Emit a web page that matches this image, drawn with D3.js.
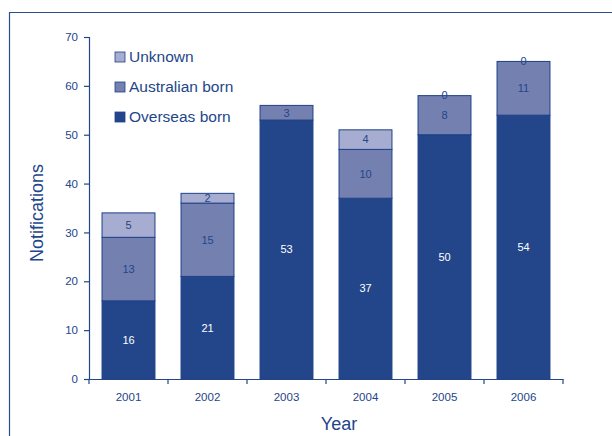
<!DOCTYPE html>
<html>
<head>
<meta charset="utf-8">
<script src="https://cdn.jsdelivr.net/npm/d3@7"></script>
<style>
  body { margin: 0; background: #fff; }
  svg { display: block; font-family: "Liberation Sans", Arial, sans-serif; }
</style>
</head>
<body>
<div id="chart"></div>
<script>
// data
var years = ["2001", "2002", "2003", "2004", "2005", "2006"];
var overseas = [16, 21, 53, 37, 50, 54];
var australian = [13, 15, 3, 10, 8, 11];
var unknown = [5, 2, null, 4, 0, 0];   // 2003 has no unknown label
var seriesNames = ["Overseas born", "Australian born", "Unknown"];
var yTicks = [0, 10, 20, 30, 40, 50, 60, 70];

var width = 612, height = 436;
var ink = "#23468a";
var colors = ["#23468a", "#7480b0", "#a7add0"];

var svg = d3.select("#chart").append("svg")
    .attr("width", width)
    .attr("height", height);

// outer frame (only top and left edges show)
svg.append("path")
    .attr("d", "M9.5 " + height + " L9.5 12.5 L" + width + " 12.5")
    .attr("fill", "none")
    .attr("stroke", "#2a4f8f")
    .attr("stroke-width", 1.2);

// note: "top" is taken by window.top, so use plot* names
var plotLeft = 89, plotRight = 563, plotTop = 37, plotBottom = 379;

var x = d3.scaleBand().domain(years).range([plotLeft, plotRight]).paddingInner(0.33).paddingOuter(0.165);
var y = d3.scaleLinear().domain([0, 70]).range([plotBottom, plotTop]);

// build stacked rows
var rows = years.map(function(yr, i){
    return {year: yr, vals: [overseas[i], australian[i], unknown[i]]};
});

rows.forEach(function(r){
    var base = 0;
    r.vals.forEach(function(v, s){
        if(v === null) return;
        var y0 = base, y1 = base + v;
        if(v > 0){
            svg.append("rect")
                .attr("x", x(r.year))
                .attr("y", y(y1))
                .attr("width", x.bandwidth())
                .attr("height", y(y0) - y(y1))
                .attr("fill", colors[s])
                .attr("stroke", "#1f4088")
                .attr("stroke-width", 1);
        }
        var ly = v > 0 ? (y(y0) + y(y1)) / 2 : y(y1);
        svg.append("text")
            .text(v)
            .attr("x", x(r.year) + x.bandwidth() / 2)
            .attr("y", ly)
            .attr("dy", "0.35em")
            .attr("text-anchor", "middle")
            .attr("font-size", 11)
            .attr("fill", s == 0 ? "#ffffff" : ink);
        base = y1;
    });
});

// axes
var yAxis = svg.append("g")
    .attr("transform", "translate(" + plotLeft + ",0)")
    .call(d3.axisLeft(y).tickValues(yTicks).tickSize(5).tickPadding(6));
var xAxis = svg.append("g")
    .attr("transform", "translate(0," + plotBottom + ")")
    .call(d3.axisBottom(x).tickSize(0).tickPadding(14));

// x ticks sit at band boundaries
var edges = years.map(function(yr){ return x(yr) - x.step() * x.paddingInner() / 2; });
edges[0] = plotLeft;
edges.push(plotRight);
edges.forEach(function(ex){
    svg.append("line")
        .attr("x1", ex).attr("x2", ex)
        .attr("y1", plotBottom).attr("y2", plotBottom + 5)
        .attr("stroke", ink).attr("stroke-width", 1.2);
});

[yAxis, xAxis].forEach(function(g){
    g.select(".domain").attr("stroke", ink).attr("stroke-width", 1.2);
    g.selectAll(".tick line").attr("stroke", ink).attr("stroke-width", 1.2);
    g.selectAll(".tick text").attr("fill", ink).attr("font-size", 11.5)
        .attr("font-family", "Liberation Sans, Arial, sans-serif");
});

// axis titles
svg.append("text")
    .text("Notifications")
    .attr("transform", "translate(43,213) rotate(-90)")
    .attr("text-anchor", "middle")
    .attr("font-size", 18)
    .attr("fill", ink);
svg.append("text")
    .text("Year")
    .attr("x", 339)
    .attr("y", 430)
    .attr("text-anchor", "middle")
    .attr("font-size", 18)
    .attr("fill", ink);

// legend, top item is Unknown
var legendOrder = [2, 1, 0];
legendOrder.forEach(function(s, k){
    var ly = 57 + k * 30;
    svg.append("rect")
        .attr("x", 115).attr("y", ly - 5)
        .attr("width", 10).attr("height", 10)
        .attr("fill", colors[s])
        .attr("stroke", "#1f4088").attr("stroke-width", 0.8);
    svg.append("text")
        .text(seriesNames[s])
        .attr("x", 129).attr("y", ly)
        .attr("dy", "0.35em")
        .attr("font-size", 15.5)
        .attr("fill", ink);
});
</script>
</body>
</html>
